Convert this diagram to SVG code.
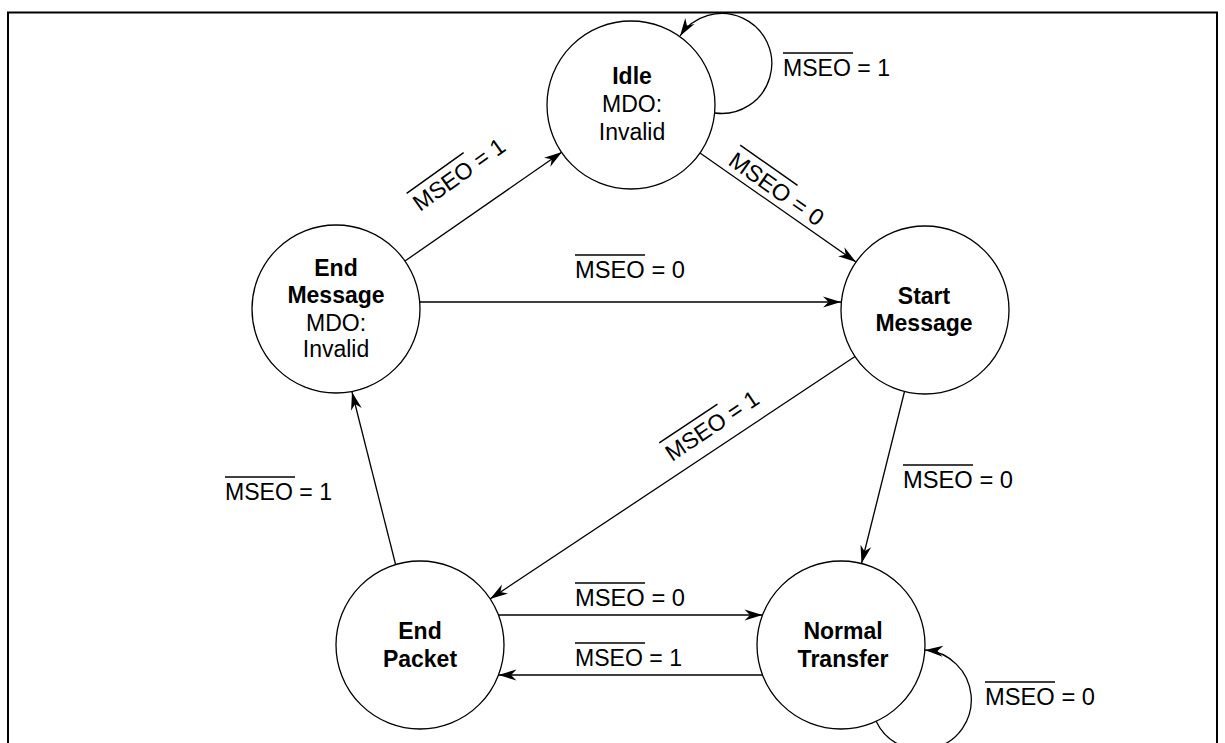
<svg xmlns="http://www.w3.org/2000/svg" width="1225" height="743" viewBox="0 0 1225 743">
<style>
text{font-family:"Liberation Sans",Arial,sans-serif;font-size:23px;fill:#000}
.b{font-weight:bold}
.st{text-anchor:middle}
.node{fill:#fff;stroke:#000;stroke-width:1.3}
.edge{fill:none;stroke:#000;stroke-width:1.3;marker-end:url(#arr)}
.ol{stroke:#000;stroke-width:1.5}
</style>
<defs>
<marker id="arr" viewBox="-20 -7 22 14" refX="0" refY="0" markerWidth="22" markerHeight="14" orient="auto" markerUnits="userSpaceOnUse">
<path d="M0,0 L-18,-5.5 L-12.5,0 L-18,5.5 Z" fill="#000"/>
</marker>
</defs>
<rect width="1225" height="743" fill="#fff"/>
<path d="M8,743 V12.5 H1217 V743" fill="none" stroke="#000" stroke-width="2"/>

<g id="connectors">
<line class="edge" x1="405" y1="261" x2="562" y2="152"/>
<line class="edge" x1="700" y1="153" x2="856" y2="262"/>
<line class="edge" x1="417" y1="302" x2="841" y2="302"/>
<line class="edge" x1="855" y1="356.5" x2="490" y2="599"/>
<line class="edge" x1="904.5" y1="391.5" x2="861.5" y2="563.5"/>
<line class="edge" x1="397.5" y1="572" x2="352" y2="392"/>
<line class="edge" x1="498.5" y1="615" x2="762.5" y2="615"/>
<line class="edge" x1="762.5" y1="675" x2="498.5" y2="675"/>
<path class="edge" d="M715,113 A50,50 0 1 0 680,36"/>
<path class="edge" d="M876,721 A50,50 0 1 0 925,650"/>
</g>

<g id="labels">
<g transform="translate(783,76)"><text textLength="107" lengthAdjust="spacingAndGlyphs">MSEO = 1</text><line class="ol" x1="0" y1="-23" x2="70" y2="-23"/></g>
<g transform="translate(420,212) rotate(-35.5)"><text textLength="107" lengthAdjust="spacingAndGlyphs">MSEO = 1</text><line class="ol" x1="0" y1="-23" x2="70" y2="-23"/></g>
<g transform="translate(727,164) rotate(35)"><text textLength="110" lengthAdjust="spacingAndGlyphs">MSEO = 0</text><line class="ol" x1="0" y1="-23" x2="70" y2="-23"/></g>
<g transform="translate(575,278)"><text textLength="110" lengthAdjust="spacingAndGlyphs">MSEO = 0</text><line class="ol" x1="0" y1="-23" x2="70" y2="-23"/></g>
<g transform="translate(672,462) rotate(-33.7)"><text textLength="107" lengthAdjust="spacingAndGlyphs">MSEO = 1</text><line class="ol" x1="0" y1="-23" x2="70" y2="-23"/></g>
<g transform="translate(903,488)"><text textLength="110" lengthAdjust="spacingAndGlyphs">MSEO = 0</text><line class="ol" x1="0" y1="-23" x2="70" y2="-23"/></g>
<g transform="translate(225,500)"><text textLength="107" lengthAdjust="spacingAndGlyphs">MSEO = 1</text><line class="ol" x1="0" y1="-23" x2="70" y2="-23"/></g>
<g transform="translate(575,606)"><text textLength="110" lengthAdjust="spacingAndGlyphs">MSEO = 0</text><line class="ol" x1="0" y1="-23" x2="70" y2="-23"/></g>
<g transform="translate(575,666)"><text textLength="107" lengthAdjust="spacingAndGlyphs">MSEO = 1</text><line class="ol" x1="0" y1="-23" x2="70" y2="-23"/></g>
<g transform="translate(985,705)"><text textLength="110" lengthAdjust="spacingAndGlyphs">MSEO = 0</text><line class="ol" x1="0" y1="-23" x2="70" y2="-23"/></g>
</g>

<g id="idle">
<circle class="node" cx="631" cy="105" r="84"/>
<text class="st b" x="632" y="84">Idle</text>
<text class="st" x="632" y="112">MDO:</text>
<text class="st" x="632" y="140">Invalid</text>
</g>
<g id="end-message">
<circle class="node" cx="336" cy="309" r="84"/>
<text class="st b" x="336" y="276">End</text>
<text class="st b" x="336" y="303">Message</text>
<text class="st" x="336" y="331">MDO:</text>
<text class="st" x="336" y="357">Invalid</text>
</g>
<g id="start-message">
<circle class="node" cx="925" cy="310" r="84"/>
<text class="st b" x="924" y="304">Start</text>
<text class="st b" x="924" y="331">Message</text>
</g>
<g id="end-packet">
<circle class="node" cx="420" cy="645" r="84"/>
<text class="st b" x="420" y="639">End</text>
<text class="st b" x="420" y="667">Packet</text>
</g>
<g id="normal-transfer">
<circle class="node" cx="841" cy="645" r="84"/>
<text class="st b" x="843" y="639">Normal</text>
<text class="st b" x="843" y="667">Transfer</text>
</g>
</svg>
